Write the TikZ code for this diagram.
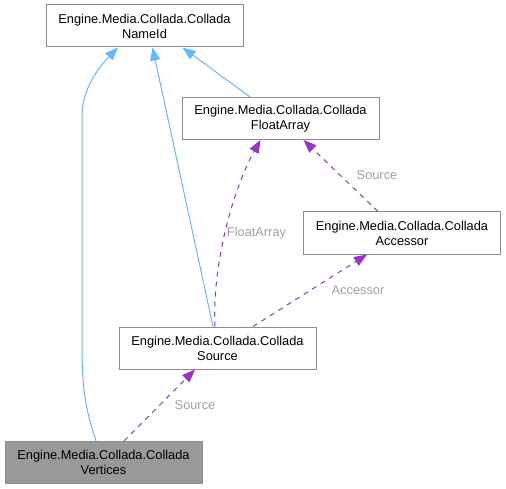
\documentclass[tikz,border=0pt]{standalone}
\usepackage{fontspec}
\setmainfont{Liberation Sans}
\usepackage{tikz}
\usetikzlibrary{arrows.meta}
\definecolor{boxline}{HTML}{8C8C8C}
\definecolor{inherit}{HTML}{63B8FF}
\definecolor{usage}{HTML}{9A32CD}
\definecolor{lblgray}{HTML}{A0A0A0}
\definecolor{curfill}{HTML}{999999}
\tikzset{
    cls/.style={draw=boxline, fill=white, line width=1pt, minimum width=197pt, minimum height=42pt, inner sep=0pt, align=center, font=\fontsize{12.8}{15}\selectfont},
    inh/.style={draw=inherit, line width=1pt, -{Triangle[length=13pt,width=10pt]}},
    use/.style={draw=usage, line width=1pt, dash pattern=on 5pt off 5pt, -{Triangle[length=13pt,width=10pt]}},
    lbl/.style={text=lblgray, font=\fontsize{12.8}{15}\selectfont, inner sep=0pt}
}

\begin{document}
\begin{tikzpicture}[x=1pt, y=-1pt]
    \useasboundingbox (0,0) rectangle (506,489);
    \node[cls] (nameid) at (144.5,26) {Engine.Media.Collada.Collada\\NameId};
    \node[cls] (floatarr) at (280.5,118.5) {Engine.Media.Collada.Collada\\FloatArray};
    \node[cls] (accessor) at (402,233) {Engine.Media.Collada.Collada\\Accessor};
    \node[cls] (source) at (217.5,348) {Engine.Media.Collada.Collada\\Source};
    \node[cls, fill=curfill] (vertices) at (103.5,462.5) {Engine.Media.Collada.Collada\\Vertices};
    \draw[inh] ([xshift=-7.5pt]vertices.north) .. controls (84,405) and (82,385) .. (82,340) -- (82,115) .. controls (82,90) and (98,68) .. ([xshift=-26.5pt]nameid.south);
    \draw[inh] ([xshift=-4.5pt]source.north) -- ([xshift=8pt]nameid.south);
    \draw[inh] ([xshift=-30.5pt]floatarr.north) -- ([xshift=38pt]nameid.south);
    \draw[use] ([xshift=-2.5pt]source.north) .. controls (212,260) and (235,185) .. ([xshift=-20pt]floatarr.south);
    \draw[use] ([xshift=-24pt]accessor.north) -- ([xshift=23pt]floatarr.south);
    \draw[use] ([xshift=35.5pt]source.north) -- ([xshift=-35pt]accessor.south);
    \draw[use] ([xshift=20.5pt]vertices.north) -- ([xshift=-22.5pt]source.south);
    \node[lbl] (lblfloat) at (256.5,233.5) {FloatArray};
    \node[lbl] (lblsrcacc) at (377,175.5) {Source};
    \node[lbl] (lblacc) at (358,290) {Accessor};
    \node[lbl] (lblsrc) at (195,405.5) {Source};
\end{tikzpicture}
\end{document}
